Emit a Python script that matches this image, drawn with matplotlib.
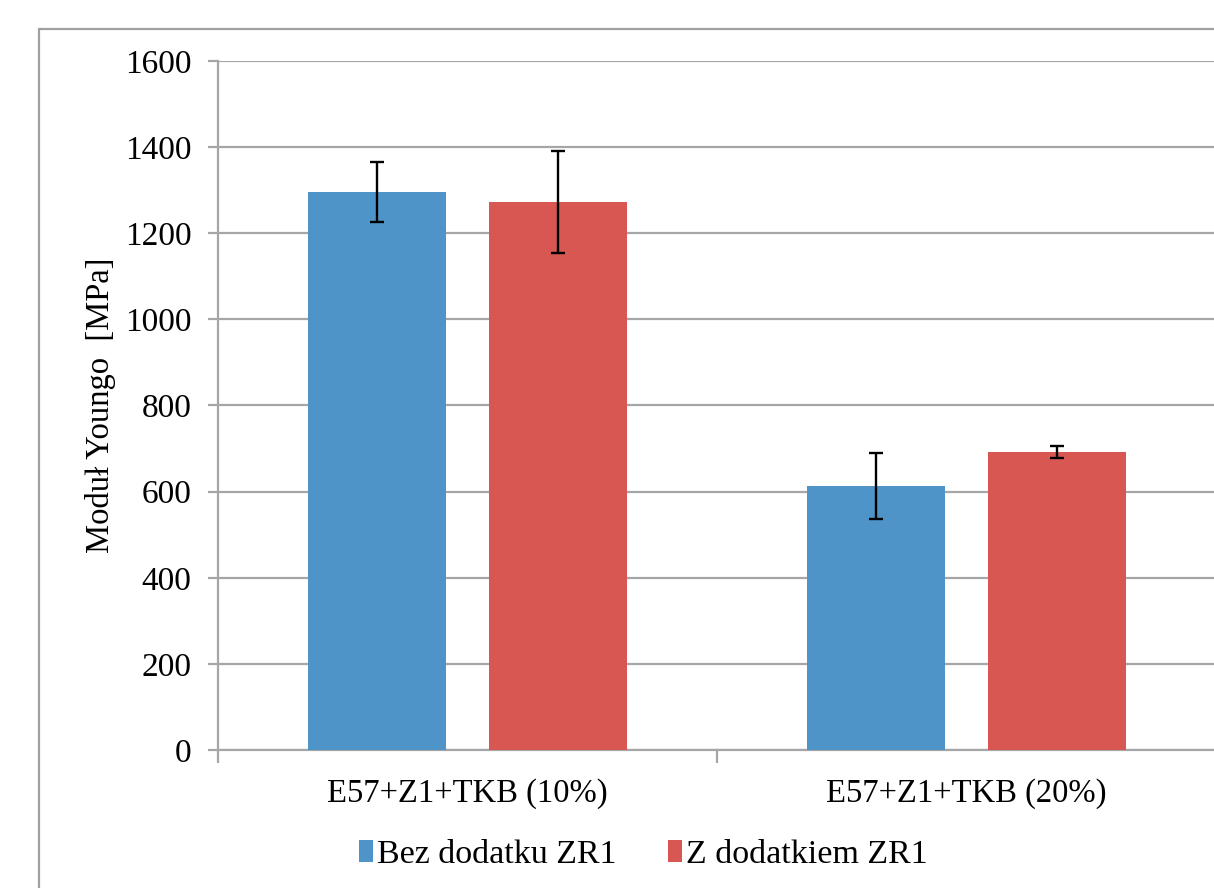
import numpy as np
import matplotlib.pyplot as plt
from matplotlib.patches import Rectangle

categories = ['E57+Z1+TKB (10%)', 'E57+Z1+TKB (20%)']
series_names = ['Bez dodatku ZR1', 'Z dodatkiem ZR1']
bez = [1296, 613]
bez_err = [70, 76]
z_dod = [1272, 692]
z_err = [118, 15]
yticks = [0, 200, 400, 600, 800, 1000, 1200, 1400, 1600]

blue = '#4f94c8'
red = '#d85752'
grid_c = '#a6a6a6'

plt.rcParams['font.family'] = ['Liberation Serif', 'DejaVu Serif']

W, H = 1214, 888
fig = plt.figure(figsize=(W / 100, H / 100), dpi=100)

# ramka obszaru wykresu (ucięta z prawej i u dołu)
fig.patches.append(Rectangle((39 / W, -0.1), 1.2, (H - 29) / H + 0.1, transform=fig.transFigure,
                             fill=False, edgecolor='#a0a0a0', linewidth=1.6))

ax = fig.add_axes([218 / W, (H - 750) / H, (1216 - 218) / W, (750 - 61) / H])

x = np.arange(len(categories))
bw = 0.276
off = 0.181
ax.bar(x - off, bez, bw, color=blue, label=series_names[0], zorder=3)
ax.bar(x + off, z_dod, bw, color=red, label=series_names[1], zorder=3)
ax.errorbar(x - off, bez, yerr=bez_err, fmt='none', ecolor='black', elinewidth=1.7,
            capsize=4.8, capthick=1.7, zorder=4)
ax.errorbar(x + off, z_dod, yerr=z_err, fmt='none', ecolor='black', elinewidth=1.7,
            capsize=4.8, capthick=1.7, zorder=4)

ax.set_xlim(-0.5, 1.5)
ax.set_ylim(0, 1600)
ax.set_yticks(yticks)
ax.yaxis.grid(True, color=grid_c, linewidth=1.6, zorder=0)
ax.set_axisbelow(True)

for s in ['top', 'right']:
    ax.spines[s].set_visible(False)
ax.spines['left'].set_color(grid_c)
ax.spines['left'].set_linewidth(1.6)
ax.spines['bottom'].set_color(grid_c)
ax.spines['bottom'].set_linewidth(1.6)

ax.tick_params(axis='y', length=7, width=1.6, color=grid_c, labelsize=24, pad=12)
ax.set_xticks(x)
ax.set_xticklabels(categories, fontsize=23.5)
ax.set_xticks([-0.5, 0.5, 1.5], minor=True)
ax.tick_params(axis='x', which='major', length=0, pad=20)
ax.tick_params(axis='x', which='minor', length=9, width=1.6, color=grid_c)

ax.set_ylabel('Moduł Youngo  [MPa]', fontsize=23.5)
ax.yaxis.set_label_coords(-0.102, 0.5)

leg = fig.legend(loc='center left', bbox_to_anchor=(352 / W, (H - 855) / H), ncol=2, frameon=False,
                 fontsize=24.5, handlelength=0.42, handleheight=0.6, handletextpad=0.12,
                 columnspacing=1.5, borderpad=0.2, borderaxespad=0)

fig.savefig('out.png', dpi=100)
